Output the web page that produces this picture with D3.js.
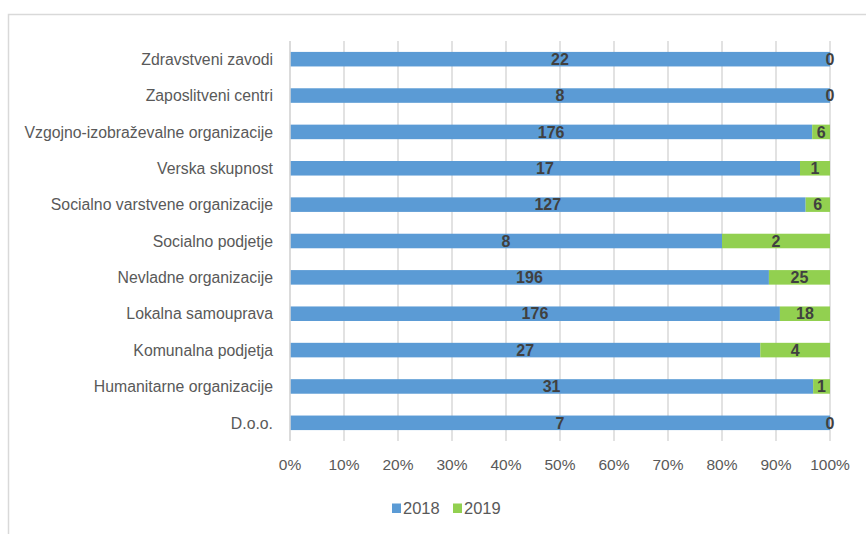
<!DOCTYPE html>
<html><head><meta charset="utf-8">
<script src="https://cdn.jsdelivr.net/npm/d3@7"></script>
<style>
html,body{margin:0;padding:0;background:#fff;overflow:hidden}
svg{display:block}
</style></head>
<body>
<svg id="chart" width="866" height="534"></svg>
<script>
const categories = ["Zdravstveni zavodi","Zaposlitveni centri","Vzgojno-izobraževalne organizacije","Verska skupnost","Socialno varstvene organizacije","Socialno podjetje","Nevladne organizacije","Lokalna samouprava","Komunalna podjetja","Humanitarne organizacije","D.o.o."];
const values2018 = [22,8,176,17,127,8,196,176,27,31,7];
const values2019 = [0,0,6,1,6,2,25,18,4,1,0];
const seriesNames = ["2018","2019"];
const seriesColors = ["#5B9BD5","#92D050"];
const tickValues = [0,0.1,0.2,0.3,0.4,0.5,0.6,0.7,0.8,0.9,1];

const svg = d3.select("#chart");
const font = "'Liberation Sans', Arial, sans-serif";

// outer frame
svg.append("rect").attr("x",8.5).attr("y",14.5).attr("width",900).attr("height",600)
  .attr("fill","none").attr("stroke","#d9d9d9").attr("stroke-width",1.5);

const m = {left:290, right:830, top:41, bottom:441};
const x = d3.scaleLinear().domain([0,1]).range([m.left, m.right]);
const y = d3.scaleBand().domain(categories).range([m.top, m.bottom]).paddingInner(0.6).paddingOuter(0.3);

// gridlines
svg.append("g").selectAll("line").data(tickValues).join("line")
  .attr("x1",d=>x(d)).attr("x2",d=>x(d)).attr("y1",m.top).attr("y2",m.bottom)
  .attr("stroke","#d9d9d9").attr("stroke-width",1.5);

const rows = categories.map((c,i)=>({c, v0:values2018[i], v1:values2019[i], t:values2018[i]+values2019[i]}));
const stackData = rows.map(r=>({c:r.c, s0:r.v0/r.t, s1:r.v1/r.t, v0:r.v0, v1:r.v1}));
const layers = d3.stack().keys(["s0","s1"])(stackData);

const g = svg.append("g");
layers.forEach((layer,li)=>{
  g.append("g").selectAll("rect").data(layer).join("rect")
    .attr("x",d=>x(d[0])).attr("width",d=>Math.max(0,x(d[1])-x(d[0])))
    .attr("y",d=>y(d.data.c)).attr("height",y.bandwidth())
    .attr("fill",seriesColors[li]);
});

// left category axis line
svg.append("line").attr("x1",m.left).attr("x2",m.left).attr("y1",m.top).attr("y2",m.bottom)
  .attr("stroke","#d9d9d9").attr("stroke-width",1.5);

// data labels
layers.forEach((layer,li)=>{
  g.append("g").selectAll("text").data(layer).join("text")
    .attr("x",d=>(x(d[0])+x(d[1]))/2)
    .attr("y",d=>y(d.data.c)+y.bandwidth()/2)
    .attr("dy","0.36em")
    .attr("text-anchor","middle")
    .attr("font-family",font).attr("font-size",16).attr("font-weight","bold")
    .attr("fill","#404040")
    .text(d=>li===0?d.data.v0:d.data.v1);
});

// category labels
svg.append("g").selectAll("text").data(categories).join("text")
  .attr("x",273).attr("y",d=>y(d)+y.bandwidth()/2).attr("dy","0.36em")
  .attr("text-anchor","end").attr("font-family",font).attr("font-size",15.8)
  .attr("fill","#595959").text(d=>d);

// x axis labels
svg.append("g").selectAll("text").data(tickValues).join("text")
  .attr("x",d=>x(d)).attr("y",470).attr("text-anchor","middle")
  .attr("font-family",font).attr("font-size",15.5).attr("fill","#595959")
  .text(d=>d3.format(".0%")(d));

// legend
const lg = svg.append("g");
const legX = [392, 453];
seriesNames.forEach((n,i)=>{
  lg.append("rect").attr("x",legX[i]).attr("y",503.5).attr("width",9).attr("height",9.5).attr("fill",seriesColors[i]);
  lg.append("text").attr("x",legX[i]+11).attr("y",508.5).attr("dy","0.36em")
    .attr("font-family",font).attr("font-size",16.5).attr("fill","#595959").text(n);
});
</script>
</body></html>
